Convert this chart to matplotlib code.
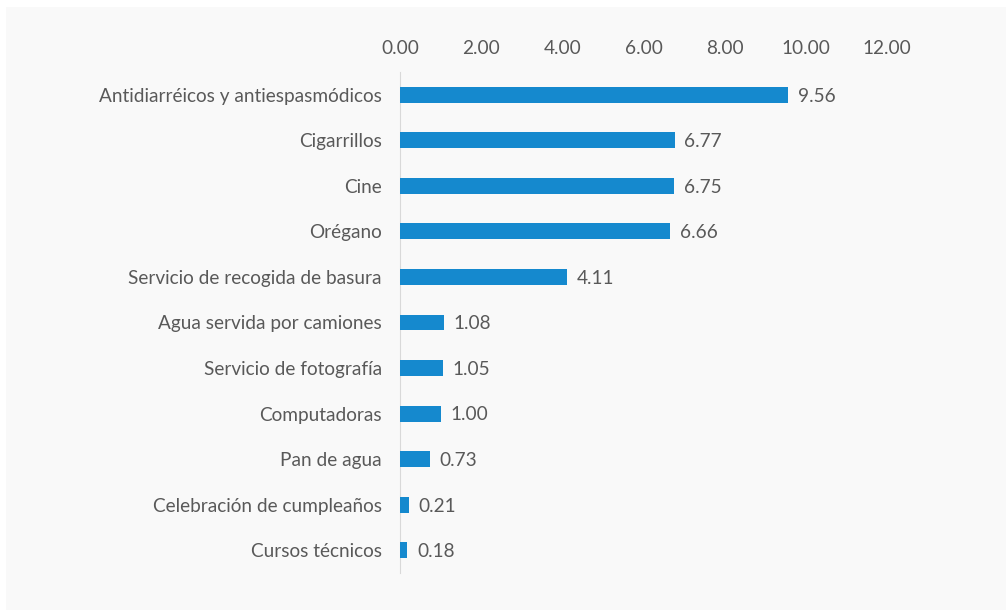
import matplotlib.pyplot as plt
from matplotlib.patches import Rectangle

categorias = [
    "Antidiarréicos y antiespasmódicos",
    "Cigarrillos",
    "Cine",
    "Orégano",
    "Servicio de recogida de basura",
    "Agua servida por camiones",
    "Servicio de fotografía",
    "Computadoras",
    "Pan de agua",
    "Celebración de cumpleaños",
    "Cursos técnicos",
]
valores = [9.56, 6.77, 6.75, 6.66, 4.11, 1.08, 1.05, 1.00, 0.73, 0.21, 0.18]
ticks = [0, 2, 4, 6, 8, 10, 12]

plt.rcParams['font.family'] = ['Lato', 'DejaVu Sans']
gris = '#595959'
fs = 13.7

W, H = 1006, 610
fig = plt.figure(figsize=(W / 100, H / 100), dpi=100, facecolor='white')
# panel gris claro de fondo
fig.patches.append(Rectangle((6 / W, 0), 1 - 6 / W, 1 - 7 / H,
                             transform=fig.transFigure, facecolor='#f9f9f9',
                             edgecolor='none', zorder=-5))

ax = fig.add_axes([400 / W, 37 / H, 487 / W, 501 / H])
ax.set_zorder(2)
ax.set_facecolor('none')

y = list(range(len(categorias)))
ax.barh(y, valores, height=0.35, color='#1589CE', zorder=3)
ax.set_ylim(len(categorias) - 0.5, -0.5)
ax.set_xlim(0, 12)

ax.set_yticks(y)
ax.set_yticklabels(categorias, fontsize=fs, color=gris)
ax.set_xticks(ticks)
ax.set_xticklabels([f"{t:.2f}" for t in ticks], fontsize=fs, color=gris)
ax.xaxis.tick_top()
ax.tick_params(axis='both', length=0)
ax.tick_params(axis='y', pad=13)
ax.tick_params(axis='x', pad=11)

for s in ['top', 'right', 'bottom']:
    ax.spines[s].set_visible(False)
ax.spines['left'].set_color('#d9d9d9')

for yi, v in zip(y, valores):
    ax.annotate(f"{v:.2f}", (v, yi), xytext=(7, -1), textcoords='offset points',
                va='center', ha='left', fontsize=fs, color=gris)

fig.savefig('out.png', dpi=100, facecolor='white')
